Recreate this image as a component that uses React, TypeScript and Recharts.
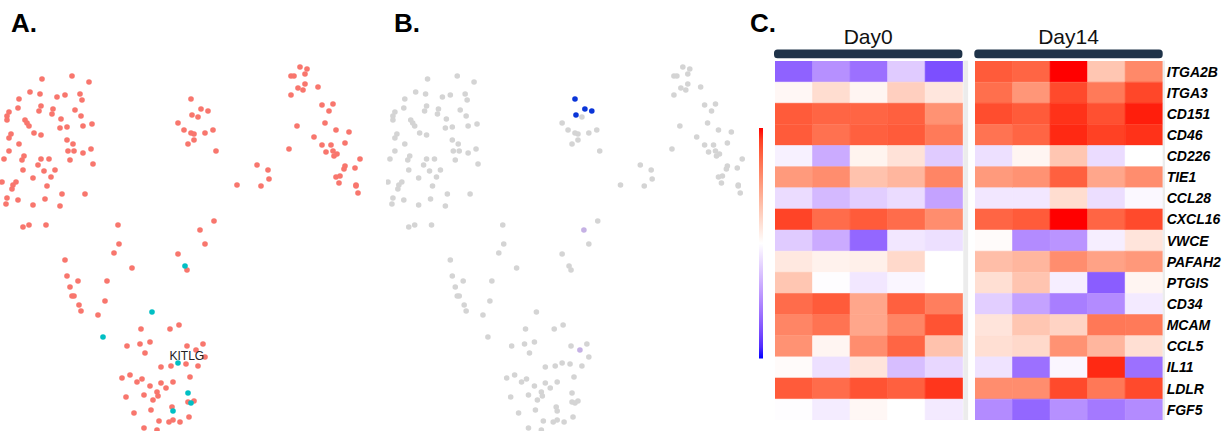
import React from "react";
import { Bar, BarChart, Cell, Scatter, ScatterChart, XAxis, YAxis } from "recharts";

// embedding coordinates (UMAP_1, UMAP_2) of each cell
const otherCells: [number, number][] = [
  [4.2, 35.2], [7.2, 35.5], [8.9, 34.9], [3.0, 33.9], [4.0, 33.7], [1.9, 33.2], [6.5, 33.6], [5.7, 33.4],
  [8.0, 33.7], [8.2, 33.1], [0.9, 31.9], [0.7, 31.5], [0.7, 31.1], [1.8, 32.3], [4.1, 32.5], [3.9, 32.0],
  [5.3, 32.2], [5.2, 31.7], [7.5, 32.1], [8.1, 31.5], [6.1, 31.2], [2.5, 31.1], [2.7, 30.8], [2.9, 30.5],
  [6.0, 30.3], [6.7, 30.4], [8.3, 30.5], [9.2, 30.7], [1.1, 29.7], [0.9, 29.3], [3.4, 29.8], [4.1, 29.6],
  [1.9, 28.7], [6.7, 29.1], [7.3, 28.7], [0.9, 28.0], [6.8, 28.0], [7.4, 28.0], [8.3, 27.8], [9.1, 28.2],
  [2.4, 27.5], [2.2, 27.1], [0.4, 27.2], [4.1, 27.2], [4.9, 27.2], [7.0, 27.1], [9.3, 26.7], [3.8, 26.6],
  [4.4, 26.0], [2.3, 26.1], [5.5, 26.1], [5.1, 25.4], [3.3, 25.3], [0.2, 24.9], [1.6, 24.9], [1.3, 24.6],
  [4.7, 24.5], [1.2, 24.2], [6.2, 23.7], [8.5, 23.7], [0.7, 23.3], [1.8, 23.1], [4.5, 23.2], [0.6, 22.7],
  [3.3, 22.6], [6.0, 22.5],
  [19.8, 31.4], [17.8, 30.8], [18.4, 30.1], [19.1, 29.8], [19.4, 29.7], [20.5, 29.8], [21.3, 30.1],
  [19.4, 29.1], [18.8, 28.7], [21.6, 28.0],
  [25.7, 26.6], [26.8, 26.1], [26.9, 25.2], [26.1, 24.5], [23.7, 24.6], [21.4, 21.0],
  [30.0, 36.4], [30.7, 36.2], [29.1, 35.5], [29.4, 35.5], [30.5, 35.7], [30.5, 34.7], [29.8, 34.3],
  [30.3, 34.1], [29.1, 33.6], [31.8, 34.4], [32.2, 32.6], [33.3, 32.7], [32.9, 32.0], [32.5, 30.8],
  [29.7, 30.5], [33.6, 30.1], [34.9, 29.9], [31.4, 29.4], [32.2, 28.6], [33.1, 28.6], [34.5, 28.8],
  [28.9, 28.2], [32.6, 27.9], [33.3, 28.0], [33.7, 27.7], [33.4, 27.5], [36.0, 27.2], [34.5, 26.5],
  [34.4, 26.2], [35.5, 26.3], [33.6, 25.4], [34.0, 25.5], [33.9, 24.8], [35.6, 24.6], [35.6, 24.5],
  [35.8, 23.8],
  [2.3, 20.4], [2.9, 20.6], [4.6, 20.6], [11.8, 20.6], [20.5, 18.7], [11.9, 18.7], [11.4, 17.8],
  [17.8, 17.7], [6.5, 17.1], [13.2, 16.3], [18.7, 16.1], [6.7, 15.5], [7.8, 15.0], [10.7, 15.0],
  [7.0, 14.4], [7.2, 13.5], [7.4, 13.5], [10.5, 13.0], [7.9, 12.6], [8.1, 12.0], [9.8, 11.6],
  [14.1, 10.2], [17.0, 10.2], [17.9, 10.6], [12.7, 8.5], [14.0, 8.7], [15.0, 8.9], [14.5, 7.8],
  [18.7, 8.5], [20.3, 8.7], [20.5, 7.4], [16.1, 6.4], [17.1, 6.5], [18.6, 6.7], [19.8, 6.5],
  [19.0, 5.4], [12.2, 5.3], [13.0, 5.6], [13.7, 4.9], [14.2, 5.2], [16.1, 4.8], [17.3, 4.9],
  [15.0, 4.5], [16.6, 4.3], [15.7, 3.9], [15.8, 3.5], [14.4, 3.6], [12.6, 3.4], [15.3, 3.1],
  [18.8, 2.9], [19.4, 3.0], [17.2, 2.4], [15.1, 2.1], [13.4, 1.8], [18.9, 1.4], [15.9, 1.0],
  [16.9, 0.9], [17.3, 1.1], [18.0, 0.9], [14.4, 0.3], [15.7, 0.1],
];
const kitlgCells: [number, number][] = [
  [18.5, 16.5], [15.2, 11.9], [10.3, 9.4], [17.8, 6.8], [18.8, 3.8], [19.1, 2.8], [17.3, 2.0],
];
const receptorHigh: [number, number][] = [[19.1, 33.2], [20.1, 32.2], [20.8, 32.0], [19.2, 31.6]];
const receptorLow: [number, number][] = [[20.0, 20.1], [19.6, 8.1]];
const kitlgLabel: [number, number] = [16.95, 7.1];

const genes = [
  "ITGA2B", "ITGA3", "CD151", "CD46", "CD226", "TIE1", "CCL28", "CXCL16", "VWCE",
  "PAFAH2", "PTGIS", "CD34", "MCAM", "CCL5", "IL11", "LDLR", "FGF5",
];
// scaled expression, -1 (blue) .. 1 (red)
const day0Expr = [
  [-0.68, -0.48, -0.62, -0.22, -0.76],
  [0.04, 0.18, 0.05, 0.25, 0.13],
  [0.8, 0.76, 0.76, 0.78, 0.56],
  [0.8, 0.71, 0.78, 0.8, 0.67],
  [-0.06, -0.36, 0.06, 0.15, -0.22],
  [0.52, 0.58, 0.32, 0.38, 0.62],
  [-0.15, -0.3, -0.21, -0.15, -0.4],
  [0.88, 0.73, 0.8, 0.73, 0.58],
  [-0.22, -0.36, -0.66, -0.1, -0.13],
  [0.12, 0.07, 0.08, 0.2, 0.0],
  [0.3, -0.01, -0.1, -0.04, 0.0],
  [0.73, 0.8, 0.46, 0.78, 0.65],
  [0.62, 0.7, 0.46, 0.62, 0.83],
  [0.56, 0.05, 0.58, 0.76, 0.32],
  [0.02, -0.13, 0.14, -0.28, -0.17],
  [0.8, 0.73, 0.83, 0.78, 0.92],
  [-0.01, -0.08, 0.04, 0.0, -0.09],
];
const day14Expr = [
  [0.8, 0.76, 1.0, 0.3, 0.6],
  [0.72, 0.54, 0.86, 0.67, 0.87],
  [0.85, 0.8, 0.93, 0.84, 0.97],
  [0.7, 0.76, 0.95, 0.89, 0.93],
  [-0.13, 0.05, 0.3, -0.15, 0.0],
  [0.52, 0.56, 0.78, 0.46, 0.58],
  [-0.1, -0.1, 0.18, -0.14, -0.03],
  [0.76, 0.8, 1.0, 0.76, 0.86],
  [0.02, -0.5, -0.46, -0.07, 0.14],
  [0.34, 0.38, 0.58, 0.48, 0.53],
  [0.17, 0.31, -0.07, -0.7, 0.05],
  [-0.21, -0.4, -0.56, -0.5, -0.09],
  [0.14, 0.3, 0.23, 0.68, 0.67],
  [0.17, 0.2, 0.56, 0.38, 0.17],
  [-0.12, -0.62, -0.04, 0.95, -0.62],
  [0.58, 0.58, 0.86, 0.68, 0.86],
  [-0.5, -0.66, -0.48, -0.58, -0.5],
];

// blue - white - red, interpolated in Lab
const toLin = (c: number) => {
  const s = c / 255;
  return s <= 0.04045 ? s / 12.92 : Math.pow((s + 0.055) / 1.055, 2.4);
};
const fromLin = (v: number) => {
  const s = v <= 0.0031308 ? 12.92 * v : 1.055 * Math.pow(Math.max(v, 0), 1 / 2.4) - 0.055;
  return Math.round(Math.min(1, Math.max(0, s)) * 255);
};
const Xn = 0.95047, Zn = 1.08883;
const fLab = (t: number) => (t > 216 / 24389 ? Math.cbrt(t) : ((24389 / 27) * t + 16) / 116);
const fInv = (t: number) => (t * t * t > 216 / 24389 ? t * t * t : (116 * t - 16) / (24389 / 27));
function rgbToLab(rgb: number[]) {
  const [R, G, B] = rgb.map(toLin);
  const X = 0.4124 * R + 0.3576 * G + 0.1805 * B;
  const Y = 0.2126 * R + 0.7152 * G + 0.0722 * B;
  const Z = 0.0193 * R + 0.1192 * G + 0.9505 * B;
  const fx = fLab(X / Xn), fy = fLab(Y), fz = fLab(Z / Zn);
  return [116 * fy - 16, 500 * (fx - fy), 200 * (fy - fz)];
}
function labToHex([L, a, b]: number[]) {
  const fy = (L + 16) / 116, fx = fy + a / 500, fz = fy - b / 200;
  const X = Xn * fInv(fx), Y = fInv(fy), Z = Zn * fInv(fz);
  const r = fromLin(3.2406 * X - 1.5372 * Y - 0.4986 * Z);
  const g = fromLin(-0.9689 * X + 1.8758 * Y + 0.0415 * Z);
  const bl = fromLin(0.0557 * X - 0.204 * Y + 1.057 * Z);
  return "#" + [r, g, bl].map((c) => c.toString(16).padStart(2, "0")).join("");
}
const WHITE = rgbToLab([255, 255, 255]);
const RED = rgbToLab([255, 0, 0]);
const BLUE = rgbToLab([0, 0, 255]);
function heatColor(v: number) {
  const end = v >= 0 ? RED : BLUE;
  const t = Math.min(1, Math.abs(v));
  return labToHex(WHITE.map((w, i) => w + (end[i] - w) * t));
}

const FONT = "'Liberation Sans', Arial, Helvetica, sans-serif";
const toXY = (pts: [number, number][]) => pts.map(([u1, u2]) => ({ u1, u2 }));
const dot = (fill: string) => (p: any) => <circle cx={p.cx} cy={p.cy} r={2.8} fill={fill} />;

function Embedding({
  left,
  width,
  layers,
  label,
}: {
  left: number;
  width: number;
  layers: { pts: [number, number][]; color: string }[];
  label?: boolean;
}) {
  return (
    <div style={{ position: "absolute", left, top: 0 }}>
      <ScatterChart width={width} height={431} margin={{ top: 0, right: 0, bottom: 0, left: 0 }}>
        <XAxis type="number" dataKey="u1" domain={[0, 38]} hide />
        <YAxis type="number" dataKey="u2" domain={[0, 43.1]} hide />
        {layers.map((l, i) => (
          <Scatter key={i} data={toXY(l.pts)} shape={dot(l.color)} isAnimationActive={false} />
        ))}
        {label && (
          <Scatter
            data={toXY([kitlgLabel])}
            isAnimationActive={false}
            shape={(p: any) => (
              <text x={p.cx} y={p.cy} fontSize={12} fontFamily={FONT} fill="#222">
                KITLG
              </text>
            )}
          />
        )}
      </ScatterChart>
    </div>
  );
}

function Heat({
  left,
  values,
  showGenes,
}: {
  left: number;
  values: number[][];
  showGenes?: boolean;
}) {
  const rows = genes.map((gene) => ({ gene, c0: 1, c1: 1, c2: 1, c3: 1, c4: 1 }));
  const cellW = 187.7;
  const axisW = 63;
  return (
    <div style={{ position: "absolute", left, top: 60.7 }}>
      <BarChart
        layout="vertical"
        width={showGenes ? cellW + axisW : cellW}
        height={359.3}
        data={rows}
        barCategoryGap={0}
        barGap={0}
        margin={{ top: 0, right: 0, bottom: 0, left: 0 }}
      >
        <XAxis type="number" domain={[0, 5]} hide />
        <YAxis
          type="category"
          dataKey="gene"
          orientation="right"
          hide={!showGenes}
          width={axisW}
          axisLine={false}
          tickLine={false}
          tickSize={0}
          tickMargin={4}
          interval={0}
          tick={{
            fill: "#000",
            fontSize: 14,
            fontWeight: 700,
            fontStyle: "italic",
            fontFamily: FONT,
            textAnchor: "start",
          }}
        />
        {[0, 1, 2, 3, 4].map((c) => (
          <Bar key={c} dataKey={`c${c}`} stackId="s" isAnimationActive={false}>
            {rows.map((r, i) => {
              const col = heatColor(values[i][c]);
              return <Cell key={r.gene} fill={col} stroke={col} strokeWidth={0.6} />;
            })}
          </Bar>
        ))}
      </BarChart>
    </div>
  );
}

const legendStops = Array.from({ length: 21 }, (_, i) => 1 - i / 10);

export default function App() {
  return (
    <div
      style={{
        position: "absolute",
        left: 0,
        top: 0,
        width: 1226,
        height: 431,
        background: "#fff",
        overflow: "hidden",
        fontFamily: FONT,
      }}
    >
      <Embedding
        left={0}
        width={380}
        layers={[
          { pts: [...otherCells, ...receptorHigh, ...receptorLow], color: "#f8766d" },
          { pts: kitlgCells, color: "#00bfc4" },
        ]}
        label
      />
      <Embedding
        left={385.6}
        width={376}
        layers={[
          { pts: [...otherCells, ...kitlgCells], color: "#d4d4d4" },
          { pts: receptorLow, color: "#c5b1e4" },
          { pts: receptorHigh, color: "#0a35d8" },
        ]}
      />
      <Heat left={775} values={day0Expr} />
      <Heat left={975} values={day14Expr} showGenes />
      <svg
        width={1226}
        height={431}
        style={{ position: "absolute", left: 0, top: 0, pointerEvents: "none" }}
      >
        <defs>
          <linearGradient id="key" x1="0" y1="0" x2="0" y2="1">
            {legendStops.map((v, i) => (
              <stop key={i} offset={`${(i / 20) * 100}%`} stopColor={heatColor(v)} />
            ))}
          </linearGradient>
        </defs>
        <g fontFamily={FONT} fontWeight={700} fontSize={26} fill="#000">
          <text x={11} y={32}>A.</text>
          <text x={394} y={32}>B.</text>
          <text x={750} y={32}>C.</text>
        </g>
        <rect x={759} y={128} width={4} height={230.5} fill="url(#key)" />
        <rect x={963.3} y={60.7} width={4.8} height={359.3} fill="#ececec" />
        <rect x={1162.7} y={60.7} width={2.3} height={359.3} fill="#ececec" />
        <rect x={774} y={49.4} width={188.4} height={8.9} rx={3.5} fill="#1f3349" />
        <rect x={974.3} y={49.4} width={188.4} height={8.9} rx={3.5} fill="#1f3349" />
        <g fontFamily={FONT} fontSize={21} fill="#111" textAnchor="middle">
          <text x={868.2} y={44.3}>Day0</text>
          <text x={1068.5} y={44.3}>Day14</text>
        </g>
      </svg>
    </div>
  );
}
